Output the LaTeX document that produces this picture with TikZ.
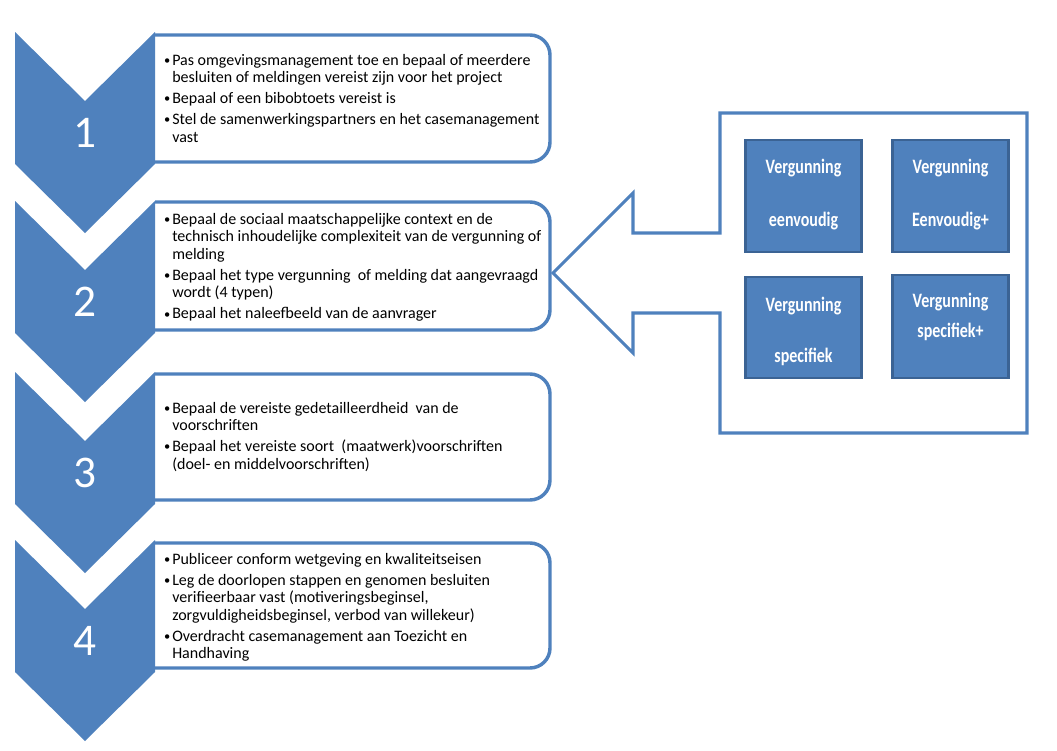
\documentclass[tikz,border=0pt]{standalone}
\usepackage{fontspec}
\setmainfont{Carlito}
\usepackage{graphicx}
\definecolor{acc}{HTML}{4F81BD}
\definecolor{accdark}{HTML}{3B6394}
\newcommand{\bitem}[1]{\par\noindent\hangindent=6.75pt\hangafter=1\makebox[6.75pt][l]{\hspace{0.6pt}\raisebox{0.6pt}{\scalebox{0.78}{•}}}#1}
\newcommand{\vsc}[1]{\scalebox{1}[1.28]{#1}}
\begin{document}
\begin{tikzpicture}[x=0.75pt,y=-0.75pt,
  chev/.style={fill=acc,draw=none},
  stepbox/.style={draw=acc,line width=2.6pt,fill=white,rounded corners=15pt,inner sep=0pt,minimum width=315pt,minimum height=95pt},
  num/.style={text=white,font=\fontsize{34}{40}\selectfont,anchor=base,inner sep=0pt},
  txt/.style={anchor=base west,inner sep=0pt,font=\fontsize{12}{13.2}\selectfont},
  vbox/.style={fill=acc,draw=accdark,line width=2.2pt,inner sep=0pt,minimum width=87pt},
  vtxt/.style={text=white,anchor=base,inner sep=0pt,font=\bfseries\fontsize{12}{14}\selectfont},
  callout/.style={draw=acc,line width=2.3pt,fill=white,line join=miter}]
\useasboundingbox (0,0) rectangle (1057,750);

% rounded step boxes (left side hidden behind the chevrons)
\begin{scope}
\clip (155,0) rectangle (700,750);
\node[stepbox,minimum height=95.25pt] (b1) at (340,98.5) {};
\node[stepbox,minimum height=96pt] (b2) at (340,266) {};
\node[stepbox,minimum height=94.5pt] (b3) at (340,437) {};
\node[stepbox,minimum height=93.75pt] (b4) at (340,605.5) {};
\end{scope}

% chevrons
\foreach \t in {32,201,372,540}{
  \fill[acc] (15,\t) -- (85,\t+69) -- (155,\t) -- (155,\t+132) -- (85,\t+201) -- (15,\t+132) -- cycle;
}

% numbers
\node[num] (n1) at (85,147) {1};
\node[num] (n2) at (85,316) {2};
\node[num] (n3) at (85,487) {3};
\node[num] (n4) at (85,655) {4};

% texts
\node[txt] (t1) at (163,65) {\parbox[t]{300pt}{\raggedright
\bitem{Pas omgevingsmanagement toe en bepaal of meerdere\newline besluiten of meldingen vereist zijn voor het project}\setlength{\parskip}{2.6pt}
\bitem{Bepaal of een bibobtoets vereist is}
\bitem{Stel de samenwerkingspartners en het casemanagement\newline vast}}};

\node[txt] (t2) at (163,224) {\parbox[t]{300pt}{\raggedright
\bitem{Bepaal de sociaal maatschappelijke context en de\newline technisch inhoudelijke complexiteit van de vergunning of\newline melding}\setlength{\parskip}{2.6pt}
\bitem{Bepaal het type vergunning\ \ of melding dat aangevraagd\newline wordt (4 typen)}
\bitem{Bepaal het naleefbeeld van de aanvrager}}};

\node[txt] (t3) at (163,413) {\parbox[t]{300pt}{\raggedright
\bitem{Bepaal de vereiste gedetailleerdheid\ \ van de\newline voorschriften}\setlength{\parskip}{2.6pt}
\bitem{Bepaal het vereiste soort\ \ (maatwerk)voorschriften\newline (doel- en middelvoorschriften)}}};

\node[txt] (t4) at (163,564) {\parbox[t]{300pt}{\raggedright
\bitem{Publiceer conform wetgeving en kwaliteitseisen}\setlength{\parskip}{2.6pt}
\bitem{Leg de doorlopen stappen en genomen besluiten\newline verifieerbaar vast (motiveringsbeginsel,\newline zorgvuldigheidsbeginsel, verbod van willekeur)}
\bitem{Overdracht casemanagement aan Toezicht en\newline Handhaving}}};

% callout with frame
\draw[callout] (720,113) -- (1027,113) -- (1027,433) -- (720,433) -- (720,313) -- (633,313) -- (633,353) -- (553,273) -- (633,193) -- (633,233) -- (720,233) -- cycle;

% permit type boxes
\node[vbox,minimum height=84pt] (va) at (803.5,196) {};
\node[vbox,minimum height=84pt] (vb) at (950.5,196) {};
\node[vbox,minimum height=75.75pt] (vc) at (803.5,327.5) {};
\node[vbox,minimum height=77.25pt] (vd) at (950.5,326.5) {};

\node[vtxt] (va1) at (803.5,173) {\vsc{Vergunning}};
\node[vtxt] (va2) at (803.5,226) {\vsc{eenvoudig}};
\node[vtxt] (vb1) at (950.5,173) {\vsc{Vergunning}};
\node[vtxt] (vb2) at (950.5,226) {\vsc{Eenvoudig+}};
\node[vtxt] (vc1) at (803.5,311) {\vsc{Vergunning}};
\node[vtxt] (vc2) at (803.5,362) {\vsc{specifiek}};
\node[vtxt] (vd1) at (950.5,307) {\vsc{Vergunning}};
\node[vtxt] (vd2) at (950.5,337) {\vsc{specifiek+}};
\end{tikzpicture}
\end{document}
